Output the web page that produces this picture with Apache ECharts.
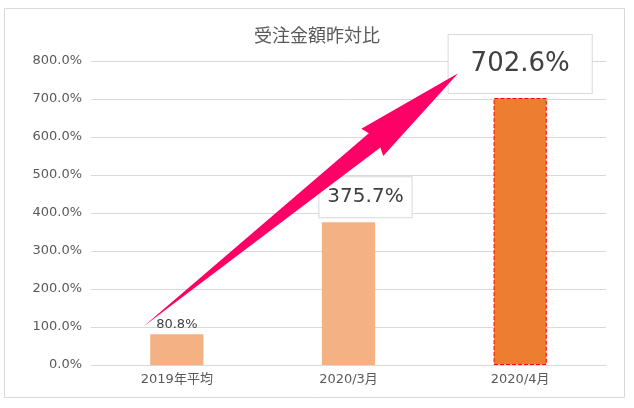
<!DOCTYPE html>
<html><head><meta charset="utf-8">
<script src="https://cdn.jsdelivr.net/npm/echarts@6/dist/echarts.min.js"></script>
<style>html,body{margin:0;padding:0;background:#fff}#c{width:634px;height:408px}</style>
</head><body><div id="c"></div>
<script>
var title = '受注金額昨対比';
var categories = ['2019年平均', '2020/3月', '2020/4月'];
var values = [80.8, 375.7, 702.6];
var yTicks = [0, 100, 200, 300, 400, 500, 600, 700, 800];

var FONT = "'DejaVu Sans','Noto Sans CJK JP',sans-serif";
var chart = echarts.init(document.getElementById('c'), null, {renderer: 'canvas'});

function fmt(p) { return p.value.toFixed(1) + '%'; }
var barData = values.map(function (v, i) {
  var d = {value: v};
  if (i === 0) {
    d.itemStyle = {color: '#F4B183'};
    d.label = {show: true, position: 'top', distance: 3, fontSize: 13, color: '#404040', fontFamily: FONT, formatter: fmt};
  } else if (i === 1) {
    d.itemStyle = {color: '#F4B183'};
    d.label = {show: true, position: 'top', distance: 5, offset: [17, 0], fontSize: 20, color: '#404040', fontFamily: FONT,
      backgroundColor: '#fff', borderColor: '#d9d9d9', borderWidth: 1, padding: [10, 8, 10, 8], formatter: fmt};
  } else {
    d.itemStyle = {color: '#ED7D31', borderColor: '#FF0000', borderWidth: 1, borderType: [4, 2]};
    d.label = {show: true, position: 'top', distance: 5, fontSize: 26, color: '#404040', fontFamily: FONT,
      backgroundColor: '#fff', borderColor: '#d9d9d9', borderWidth: 1, padding: [16, 22, 16, 22], formatter: fmt};
  }
  return d;
});

chart.setOption({
  animation: false,
  backgroundColor: '#fff',
  textStyle: {fontFamily: FONT},
  title: {text: title, left: 'center', top: 23,
    textStyle: {fontSize: 18, fontWeight: 'normal', color: '#595959', fontFamily: FONT}},
  grid: {left: 91, right: 28, top: 61, bottom: 43, containLabel: false},
  xAxis: {type: 'category', data: categories,
    axisLine: {lineStyle: {color: '#d9d9d9'}}, axisTick: {show: false},
    axisLabel: {color: '#595959', fontSize: 13, margin: 8, fontFamily: FONT}},
  yAxis: {type: 'value', min: yTicks[0], max: yTicks[yTicks.length - 1], interval: yTicks[1] - yTicks[0],
    axisLine: {show: false}, axisTick: {show: false},
    splitLine: {lineStyle: {color: '#d9d9d9'}},
    axisLabel: {color: '#595959', fontSize: 13, margin: 9, fontFamily: FONT,
      formatter: function (v) { return v.toFixed(1) + '%'; }}},
  series: [{type: 'bar', data: barData, barWidth: '31%'}]
});

// Annotation arrow anchored to the data scale
function px(ci, v) { return chart.convertToPixel({gridIndex: 0}, [ci, v]); }
var a = px(0, 100); var tail = [a[0] - 34, a[1]];
var b = px(2, 768); var tip = [b[0] - 62, b[1]];
var dx = tip[0] - tail[0], dy = tip[1] - tail[1], L = Math.sqrt(dx * dx + dy * dy);
var ux = dx / L, uy = dy / L, nx = -uy, ny = ux;
var t = 0.735, hs = 9.2, hh = 17.5;
var base = [tail[0] + dx * t, tail[1] + dy * t];
var pts = [
  tail,
  [base[0] + nx * hs, base[1] + ny * hs],
  [base[0] + nx * hh - ux * 3, base[1] + ny * hh - uy * 3],
  tip,
  [base[0] - nx * hh - ux * 3, base[1] - ny * hh - uy * 3],
  [base[0] - nx * hs, base[1] - ny * hs]
];
chart.setOption({
  graphic: [
    {type: 'rect', shape: {x: 4.5, y: 8.5, width: 620, height: 389}, silent: true, z: -10,
      style: {fill: 'none', stroke: '#d9d9d9', lineWidth: 1}},
    {type: 'polygon', shape: {points: pts}, z: 100, style: {fill: '#FF0066'}}
  ]
});
</script></body></html>
